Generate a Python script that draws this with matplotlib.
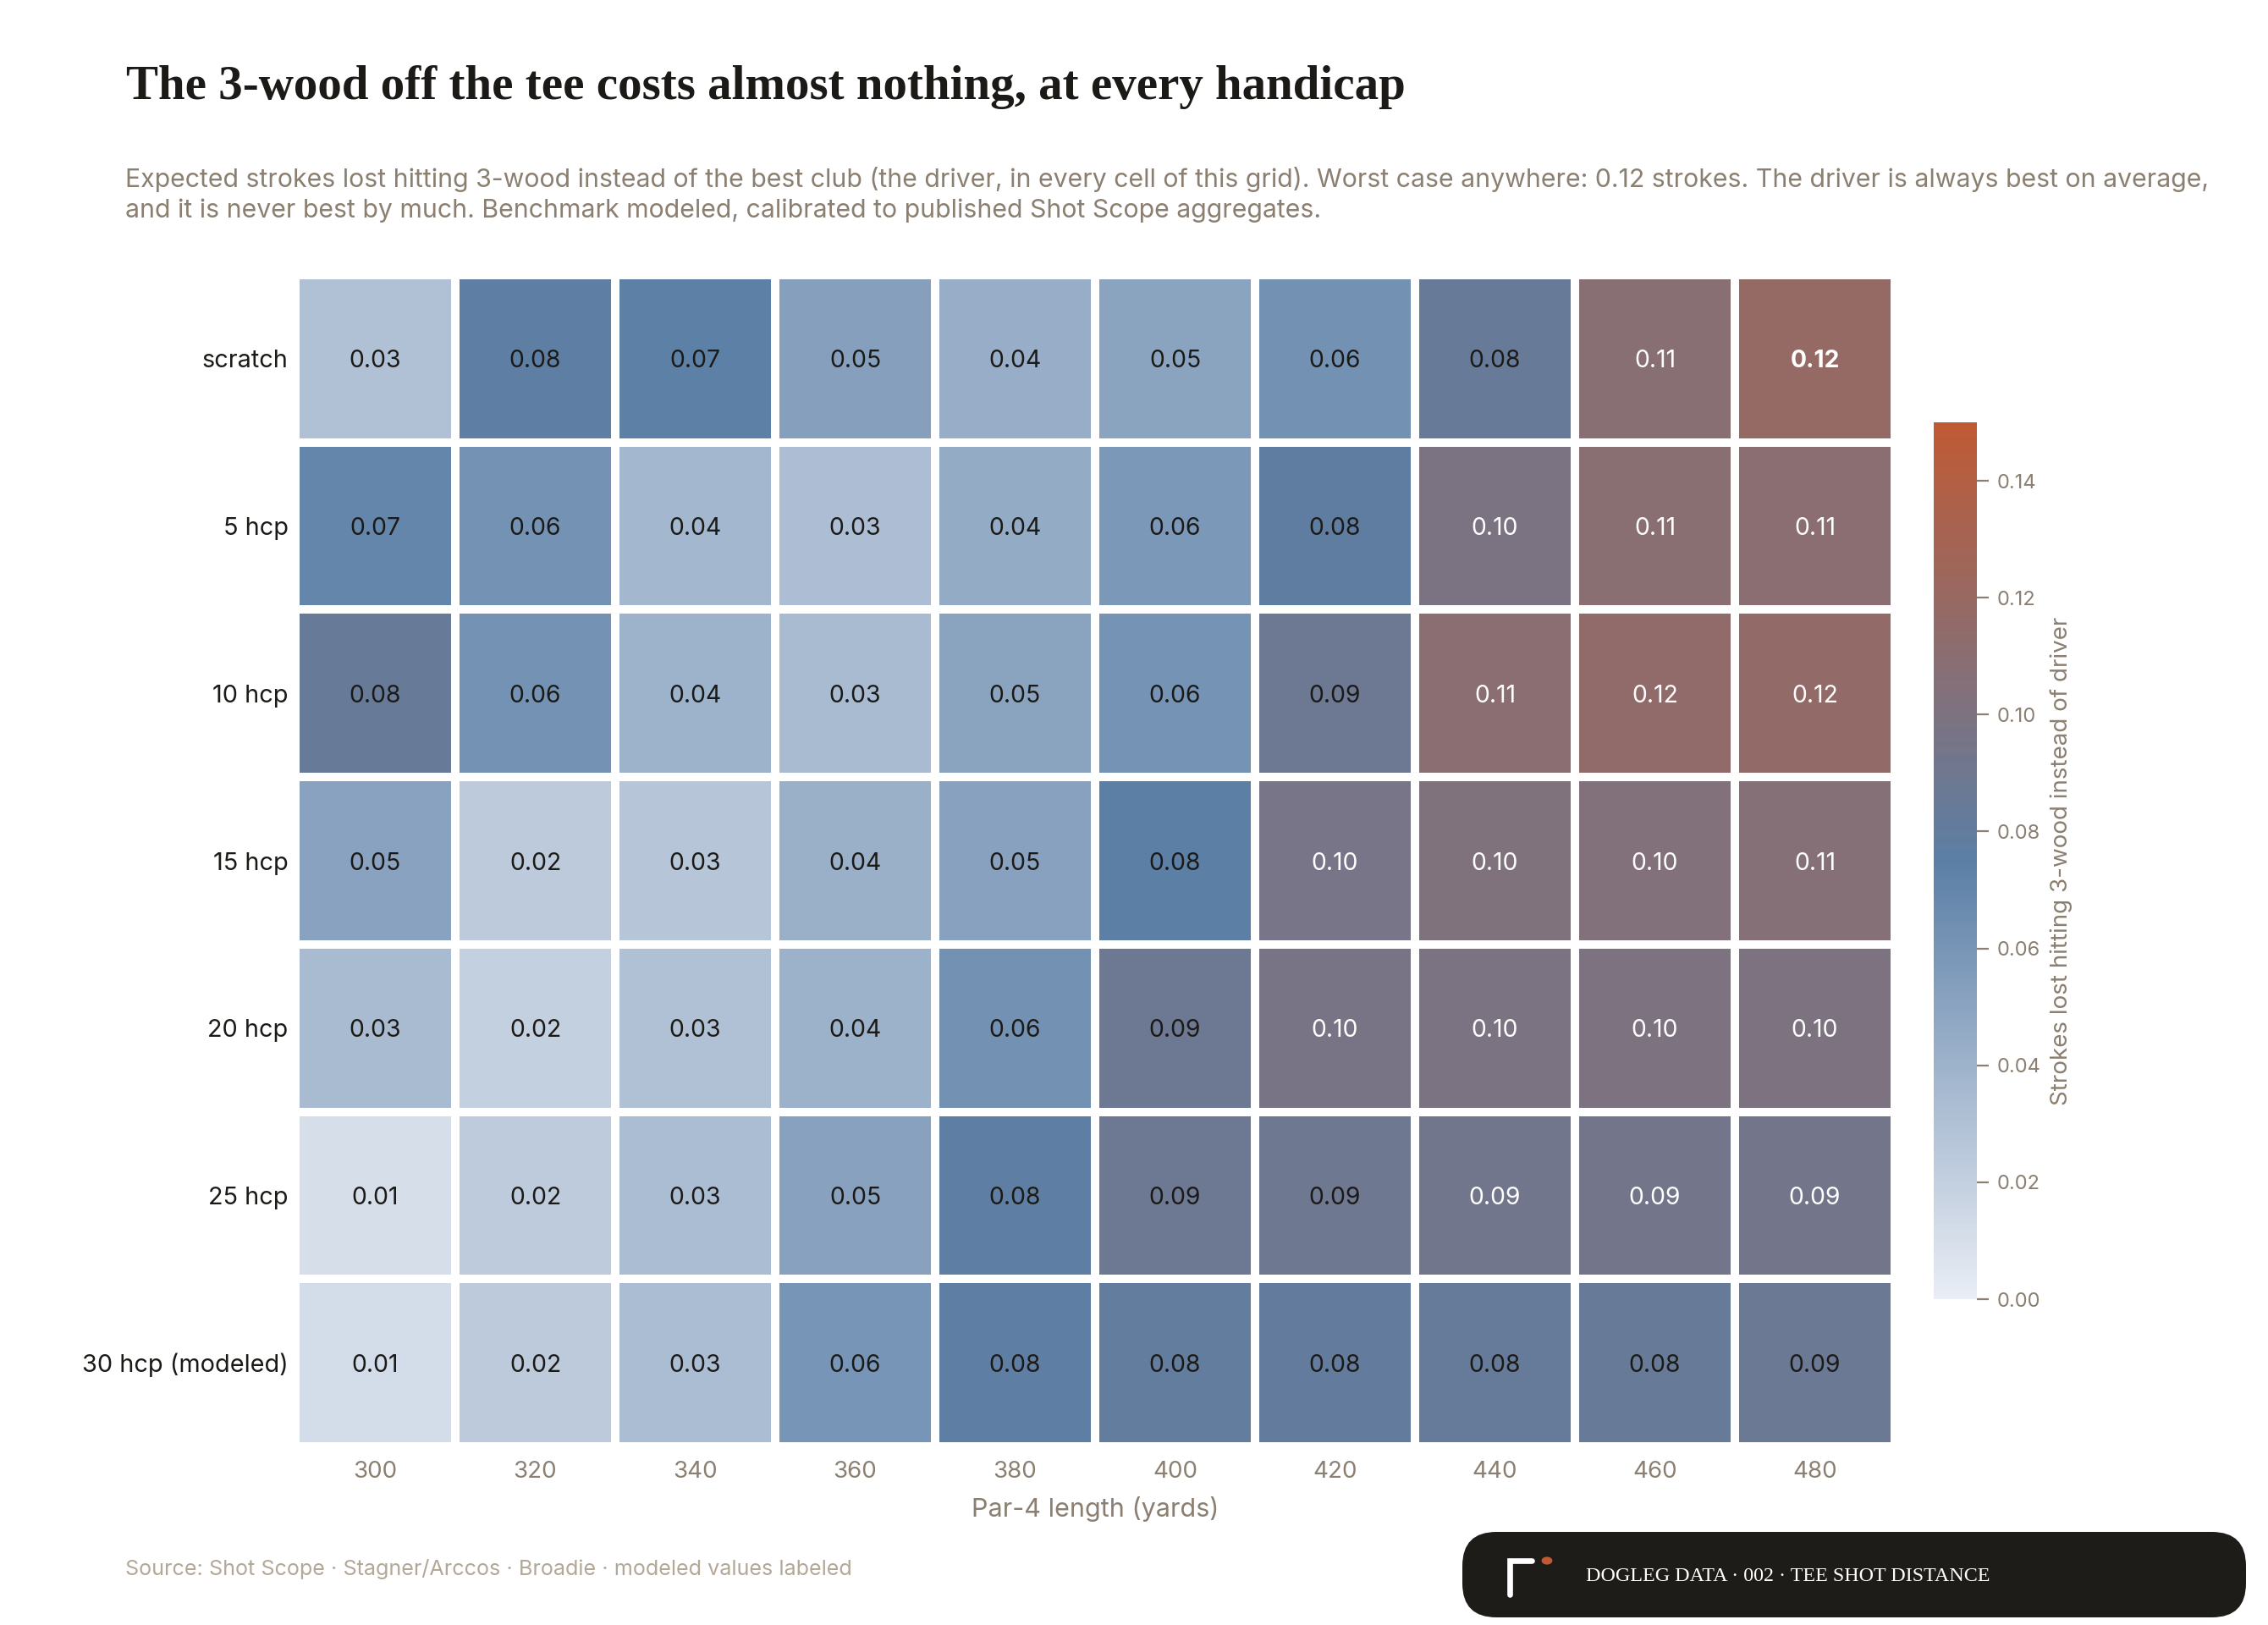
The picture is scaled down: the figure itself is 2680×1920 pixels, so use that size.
import matplotlib
matplotlib.use("Agg")
import matplotlib.pyplot as plt
import numpy as np
from matplotlib.colors import LinearSegmentedColormap
from matplotlib.patches import FancyBboxPatch, Circle
from matplotlib.lines import Line2D

plt.rcParams["font.family"] = ["Inter", "DejaVu Sans"]

lengths = [300, 320, 340, 360, 380, 400, 420, 440, 460, 480]
handicaps = ["scratch", "5 hcp", "10 hcp", "15 hcp", "20 hcp", "25 hcp", "30 hcp (modeled)"]

# strokes lost, 3-wood vs driver (rows = handicap, cols = hole length)
scratch = [0.030, 0.077, 0.074, 0.053, 0.043, 0.050, 0.063, 0.084, 0.108, 0.118]
hcp5 = [0.070, 0.062, 0.037, 0.032, 0.045, 0.058, 0.078, 0.099, 0.109, 0.110]
hcp10 = [0.084, 0.062, 0.040, 0.034, 0.050, 0.061, 0.088, 0.110, 0.115, 0.116]
hcp15 = [0.051, 0.024, 0.027, 0.042, 0.052, 0.076, 0.096, 0.102, 0.104, 0.106]
hcp20 = [0.034, 0.020, 0.030, 0.041, 0.063, 0.088, 0.097, 0.099, 0.100, 0.100]
hcp25 = [0.010, 0.023, 0.033, 0.052, 0.077, 0.088, 0.089, 0.092, 0.093, 0.093]
hcp30 = [0.012, 0.024, 0.033, 0.060, 0.077, 0.080, 0.081, 0.083, 0.084, 0.087]

grid = np.array([scratch, hcp5, hcp10, hcp15, hcp20, hcp25, hcp30])

MUTED = "#8a7f70"
INK = "#1c1a17"

cmap = LinearSegmentedColormap.from_list(
    "dogleg", [(0.0, "#e9edf5"), (0.5, "#5b7fa6"), (1.0, "#c05a35")])

fig = plt.figure(figsize=(13.4, 9.6), dpi=200)
fig.patch.set_facecolor("white")

W, H = 2680, 1920
def fx(px): return px / W
def fy(py): return 1 - py / H

ax = fig.add_axes([fx(349), fy(1709), fx(2239) - fx(349), fy(325) - fy(1709)])
mesh = ax.pcolormesh(grid, cmap=cmap, vmin=0, vmax=0.15,
                     edgecolors="white", linewidth=3.6)
ax.set_xlim(0, len(lengths))
ax.set_ylim(len(handicaps), 0)
for s in ax.spines.values():
    s.set_visible(False)

ax.set_xticks(np.arange(len(lengths)) + 0.5)
ax.set_xticklabels([str(l) for l in lengths], color=MUTED, fontsize=10)
ax.set_yticks(np.arange(len(handicaps)) + 0.5)
ax.set_yticklabels(handicaps, color=INK, fontsize=10.4, va="center_baseline")
ax.tick_params(axis="y", length=0, pad=3)
ax.tick_params(axis="x", length=0, pad=6)
ax.set_xlabel("Par-4 length (yards)", color=MUTED, fontsize=11, labelpad=6)

vmax_cell = grid.max()
for i in range(grid.shape[0]):
    for j in range(grid.shape[1]):
        v = grid[i, j]
        ax.text(j + 0.5, i + 0.5, f"{v:.2f}", ha="center", va="center_baseline",
                fontsize=10.2, color="white" if v >= 0.09 else INK,
                fontweight="bold" if v == vmax_cell else "normal")

cax = fig.add_axes([fx(2285), fy(1535), fx(2336) - fx(2285), fy(499) - fy(1535)])
cb = fig.colorbar(mesh, cax=cax, ticks=np.arange(0, 0.15, 0.02))
cb.outline.set_visible(False)
cb.ax.tick_params(color=MUTED, labelcolor=MUTED, labelsize=8.5, length=5, width=0.8)
cb.ax.set_yticklabels([f"{t:.2f}" for t in np.arange(0, 0.15, 0.02)])
cb.set_label("Strokes lost hitting 3-wood instead of driver", color=MUTED,
             fontsize=10, labelpad=4)

fig.text(fx(149), fy(103), "The 3-wood off the tee costs almost nothing, at every handicap",
         fontsize=20.5, fontweight="bold", color=INK, va="center",
         family=["Liberation Serif", "DejaVu Serif"])
fig.text(fx(148), fy(230),
         "Expected strokes lost hitting 3-wood instead of the best club (the driver, in every cell of this grid). "
         "Worst case anywhere: 0.12 strokes. The driver is always best on average,\n"
         "and it is never best by much. Benchmark modeled, calibrated to published Shot Scope aggregates.",
         fontsize=10.9, color=MUTED, va="center", linespacing=1.3)
fig.text(fx(148), fy(1854), "Source: Shot Scope · Stagner/Arccos · Broadie · modeled values labeled",
         fontsize=9.05, color="#b3a797", va="center")

# footer badge
badge = FancyBboxPatch((fx(1728), fy(1911)), fx(2654) - fx(1728), fy(1810) - fy(1911),
                       boxstyle="round,pad=0,rounding_size=0.015",
                       transform=fig.transFigure, facecolor="#1e1c18",
                       edgecolor="none", mutation_aspect=W / H)
fig.patches.append(badge)
fig.lines.append(Line2D([fx(1784), fx(1784), fx(1810)], [fy(1884), fy(1844), fy(1844)],
                        transform=fig.transFigure, color="white", linewidth=2.4,
                        solid_capstyle="round", solid_joinstyle="miter"))
fig.patches.append(Circle((fx(1828), fy(1844)), 0.0024, transform=fig.transFigure,
                          facecolor="#c05a35", edgecolor="none"))
fig.text(fx(1874), fy(1862), "DOGLEG DATA · 002 · TEE SHOT DISTANCE", fontsize=8.65,
         color="white", va="center", family=["Liberation Serif", "DejaVu Serif"])

fig.savefig("out.png", dpi=200, facecolor="white")
